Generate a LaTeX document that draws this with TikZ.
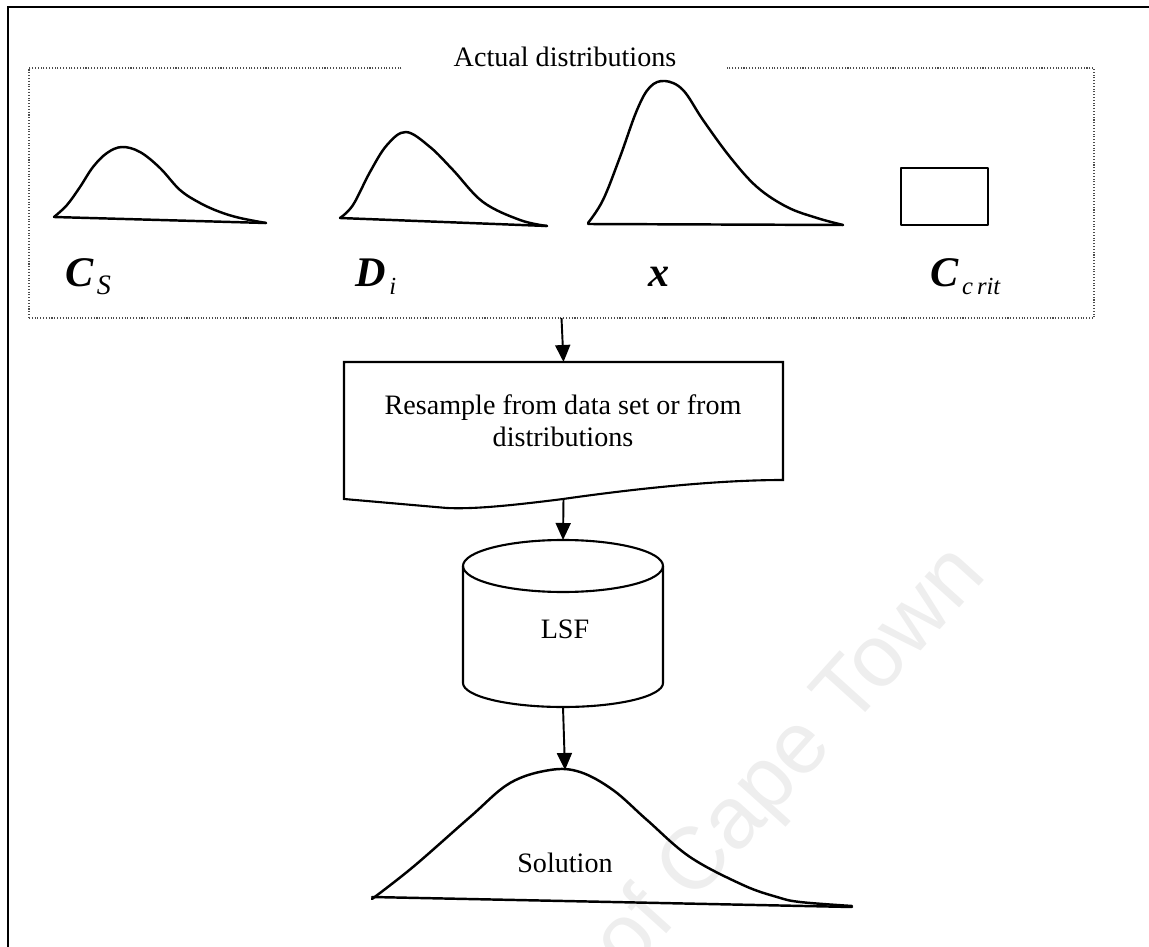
\documentclass[tikz,border=0pt]{standalone}
\usepackage{fontspec}
\setmainfont{Liberation Serif}
\newfontfamily\wmfont{Liberation Sans}
\usetikzlibrary{arrows.meta,positioning}

\tikzset{
  curve/.style={line width=1.4pt, line join=round, line cap=round},
  outline/.style={line width=1.2pt},
  arr/.style={line width=1.1pt, -{Triangle[length=3.4mm,width=3mm]}},
  sym/.style={inner sep=0pt, anchor=base west},
  txt/.style={font=\fontsize{16}{18}\selectfont, align=center, inner sep=0pt},
  blank/.style={inner sep=0pt, outer sep=0pt},
}
\newcommand{\bigsym}[1]{{\fontsize{24}{26}\selectfont\bfseries\itshape #1}}
\newcommand{\subsym}[2]{\kern2pt\raisebox{-4.5pt}{\fontsize{#1}{16}\selectfont\itshape #2}}

\begin{document}
\begin{tikzpicture}[x=0.2mm, y=-0.2mm]
\clip (0,0) rectangle (1149,947);
% watermark
\node[rotate=48, anchor=base east, text=gray!13, font=\wmfont\fontsize{50}{52}\selectfont] (wm) at (992,572) {of Cape Town};
% frame
\draw[line width=1.5pt] (8,7) rectangle (1170,970);

% input distributions
\node[blank, draw=black!70, densely dotted, line width=0.6pt, minimum width=213mm, minimum height=50mm] (actual) at (561.5,193) {};
\node[txt, fill=white, minimum width=64.8mm, minimum height=5mm] (title) at (565,57) {Actual distributions};

\draw[curve] plot[smooth, tension=0.6] coordinates {(54,217) (67,205) (80,187) (93,167) (107,153) (122,147) (140,152) (160,168) (180,190) (200,203) (220,212) (240,218) (266,223)};
\draw[curve] (54,217) -- (266,223);
\draw[curve] plot[smooth, tension=0.6] coordinates {(340,218) (353,205) (370,172) (387,145) (406,132) (430,147) (453,170) (483,202) (520,220) (547,226)};
\draw[curve] (340,218) -- (547,226);
\draw[curve] plot[smooth, tension=0.6] coordinates {(588,223) (603,200) (620,157) (637,110) (650,87) (665,81) (683,90) (703,120) (730,157) (757,187) (787,207) (817,218) (843,225)};
\draw[curve] (588,224) -- (843,225);
\draw[curve] (901,168) rectangle (988,225);

\node[sym] (cs) at (65,287) {\bigsym{C}\subsym{16}{S}};
\node[sym] (di) at (355,287) {\bigsym{D}\subsym{14}{i}};
\node[sym] (xv) at (648,287) {\bigsym{x}};
\node[sym] (ccrit) at (930,287) {\bigsym{C}\subsym{14}{c\,rit}};

% resampling step
\node[blank, minimum width=87.8mm, minimum height=27.4mm] (resample) at (563.5,430.5) {};
\draw[outline] (344,362) -- (783,362) -- (783,480) .. controls (720,480) and (640,488) .. (563,499) .. controls (500,507) and (470,509) .. (447,508) -- (344,499) -- cycle;
\node[txt] (resampletxt) at (563,421) {Resample from data set or from\\distributions};

% LSF store
\node[blank, minimum width=40mm, minimum height=33.4mm] (lsf) at (563,623.5) {};
\draw[outline] (563,566) ellipse [x radius=20mm, y radius=5.2mm];
\draw[outline] (463,566) -- (463,683) arc [start angle=180, end angle=360, x radius=20mm, y radius=4.8mm] -- (663,566);
\node[txt] (lsftxt) at (565,629) {LSF};

% solution
\coordinate (solpeak) at (565,770);
\draw[curve] plot[smooth, tension=0.6] coordinates {(372,899) (413,867) (470,817) (510,783) (550,770) (580,772) (613,790) (647,820) (690,857) (743,885) (777,897) (800,902) (852,906)};
\draw[curve] (372,897) -- (852,907);
\node[txt] (sol) at (565,863) {Solution};

\draw[arr] (actual.south) -- (resample.north);
\draw[arr] (resample.south) -- (lsf.north);
\draw[arr] (lsf.south) -- (solpeak);
\end{tikzpicture}
\end{document}
